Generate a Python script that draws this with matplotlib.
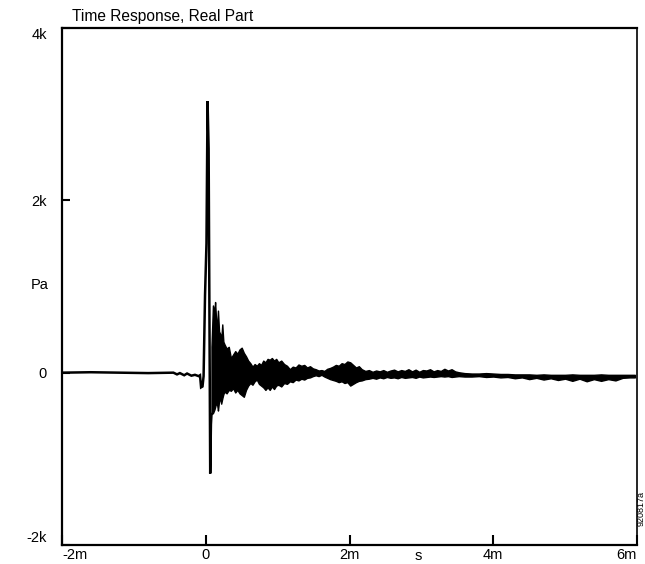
import matplotlib
matplotlib.use("Agg")
import matplotlib.pyplot as plt

plt.rcParams['font.family'] = ['Liberation Sans', 'DejaVu Sans']

# ---- data (time in ms, pressure in Pa) ----
trace_t = [-2.0, -1.6, -1.2, -0.8, -0.45, -0.40, -0.36, -0.30, -0.26, -0.20, -0.15,
           -0.10, -0.08, -0.065, -0.045, -0.03, -0.01, 0.01, 0.025, 0.04, 0.05,
           0.062, 0.072, 0.08]
trace_v = [0, 5, 0, -5, 0, -20, -5, -30, -10, -35, -25, -40, -30, -170, -160, -40,
           900, 1500, 3150, 2600, 900, -1170, -600, -480]

band_t = [0.08, 0.10, 0.12, 0.13, 0.145, 0.16, 0.17, 0.185, 0.20, 0.215, 0.23,
          0.245, 0.26, 0.29, 0.32, 0.35, 0.38, 0.41, 0.44, 0.47, 0.50, 0.53, 0.56,
          0.59, 0.62, 0.65, 0.68, 0.71, 0.74, 0.77, 0.80, 0.83, 0.86, 0.89, 0.92,
          0.95, 0.98, 1.01, 1.05, 1.09, 1.13, 1.17, 1.21, 1.25, 1.29, 1.33, 1.37,
          1.41, 1.45, 1.49, 1.53, 1.57, 1.61, 1.65, 1.69, 1.73, 1.77, 1.81, 1.85,
          1.89, 1.93, 1.97, 2.01, 2.05, 2.09, 2.13, 2.17, 2.22, 2.27, 2.32, 2.37,
          2.42, 2.47, 2.52, 2.57, 2.62, 2.67, 2.72, 2.77, 2.82, 2.87, 2.92, 2.97,
          3.02, 3.07, 3.12, 3.17, 3.22, 3.27, 3.32, 3.37, 3.42, 3.47, 3.52, 3.60,
          3.70, 3.80, 3.90, 4.00, 4.10, 4.20, 4.30, 4.40, 4.50, 4.60, 4.70, 4.80,
          4.90, 5.00, 5.10, 5.20, 5.30, 5.40, 5.50, 5.60, 5.70, 5.80, 5.90, 5.97]
band_upper = [300, 780, 700, 820, 600, 560, 720, 480, 450, 380, 560, 360, 330, 280,
              300, 170, 210, 250, 220, 270, 290, 230, 190, 140, 110, 70, 100, 80,
              110, 90, 140, 120, 160, 150, 170, 140, 160, 120, 140, 100, 80, 40, 70,
              60, 95, 80, 90, 60, 75, 50, 40, 25, 30, 20, 45, 55, 70, 90, 80, 110,
              100, 130, 120, 90, 60, 75, 40, 20, 30, 10, 25, 15, 30, 10, 25, 35, 15,
              30, 20, 40, 15, 35, 10, 30, 25, 40, 15, 30, 20, 45, 25, 40, 15, 5, -5,
              -10, -10, -5, -10, -15, -15, -20, -20, -20, -25, -20, -25, -25, -25,
              -20, -25, -25, -25, -20, -25, -25, -25, -25, -25]
band_lower = [-480, -470, -430, -400, -350, -380, -440, -330, -300, -360, -300,
              -250, -220, -240, -200, -210, -180, -230, -200, -240, -260, -280,
              -200, -150, -120, -140, -100, -80, -130, -150, -170, -200, -170, -200,
              -160, -190, -150, -140, -160, -120, -130, -100, -110, -80, -90, -70,
              -80, -60, -55, -40, -30, -40, -25, -45, -60, -75, -85, -95, -110,
              -100, -120, -110, -150, -130, -110, -95, -90, -75, -70, -60, -70, -55,
              -65, -50, -60, -55, -65, -50, -60, -55, -50, -60, -45, -55, -50, -45,
              -50, -45, -40, -45, -40, -50, -45, -40, -45, -45, -40, -50, -45, -55,
              -50, -65, -55, -75, -60, -80, -65, -85, -70, -95, -70, -100, -75, -95,
              -75, -90, -60, -55, -55]

x_ticks = [-2, 0, 2, 4, 6]
x_labels = ['-2m', '0', '2m', '4m', '6m']
y_ticks = [-2000, 0, 2000, 4000]
y_labels = ['-2k', '0', '2k', '4k']

# ---- figure ----
W, H = 645, 564
fig = plt.figure(figsize=(W / 100, H / 100), dpi=100)
ax = fig.add_axes([62 / W, 1 - 545 / H, (637 - 62) / W, (545 - 28) / H])

ax.plot(trace_t, trace_v, color='black', lw=1.8, solid_joinstyle='miter')
ax.fill_between(band_t, band_lower, band_upper, color='black', lw=1.0,
                edgecolor='black')

ax.set_xlim(-2, 6)
ax.set_ylim(-2000, 4000)

ax.set_xticks(x_ticks)
ax.set_xticklabels(x_labels)
ax.set_yticks(y_ticks)
ax.set_yticklabels(y_labels)

ax.tick_params(axis='both', direction='in', labelsize=10.5, colors='black')
ax.tick_params(axis='y', length=6, width=1.5, pad=11)
ax.tick_params(axis='x', length=7, width=1.5, pad=2)

for s in ax.spines.values():
    s.set_linewidth(1.6)
ax.spines['right'].set_linewidth(1.2)

xl = ax.get_xticklabels()
xl[0].set_ha('left')
xl[-1].set_ha('right')
yl = ax.get_yticklabels()
yl[0].set_va('bottom')
yl[-1].set_va('top')

fig.text(72 / W, 1 - 17 / H, 'Time Response, Real Part', fontsize=11.2,
         ha='left', va='center')
fig.text(40 / W, 1 - 285 / H, 'Pa', fontsize=10.5, ha='center', va='center')
fig.text(418 / W, 1 - 556 / H, 's', fontsize=10.5, ha='center', va='center')
fig.text(641 / W, 1 - 509 / H, '920817a', fontsize=6.5, ha='center',
         va='center', rotation=90)

fig.savefig('out.png', dpi=100)
